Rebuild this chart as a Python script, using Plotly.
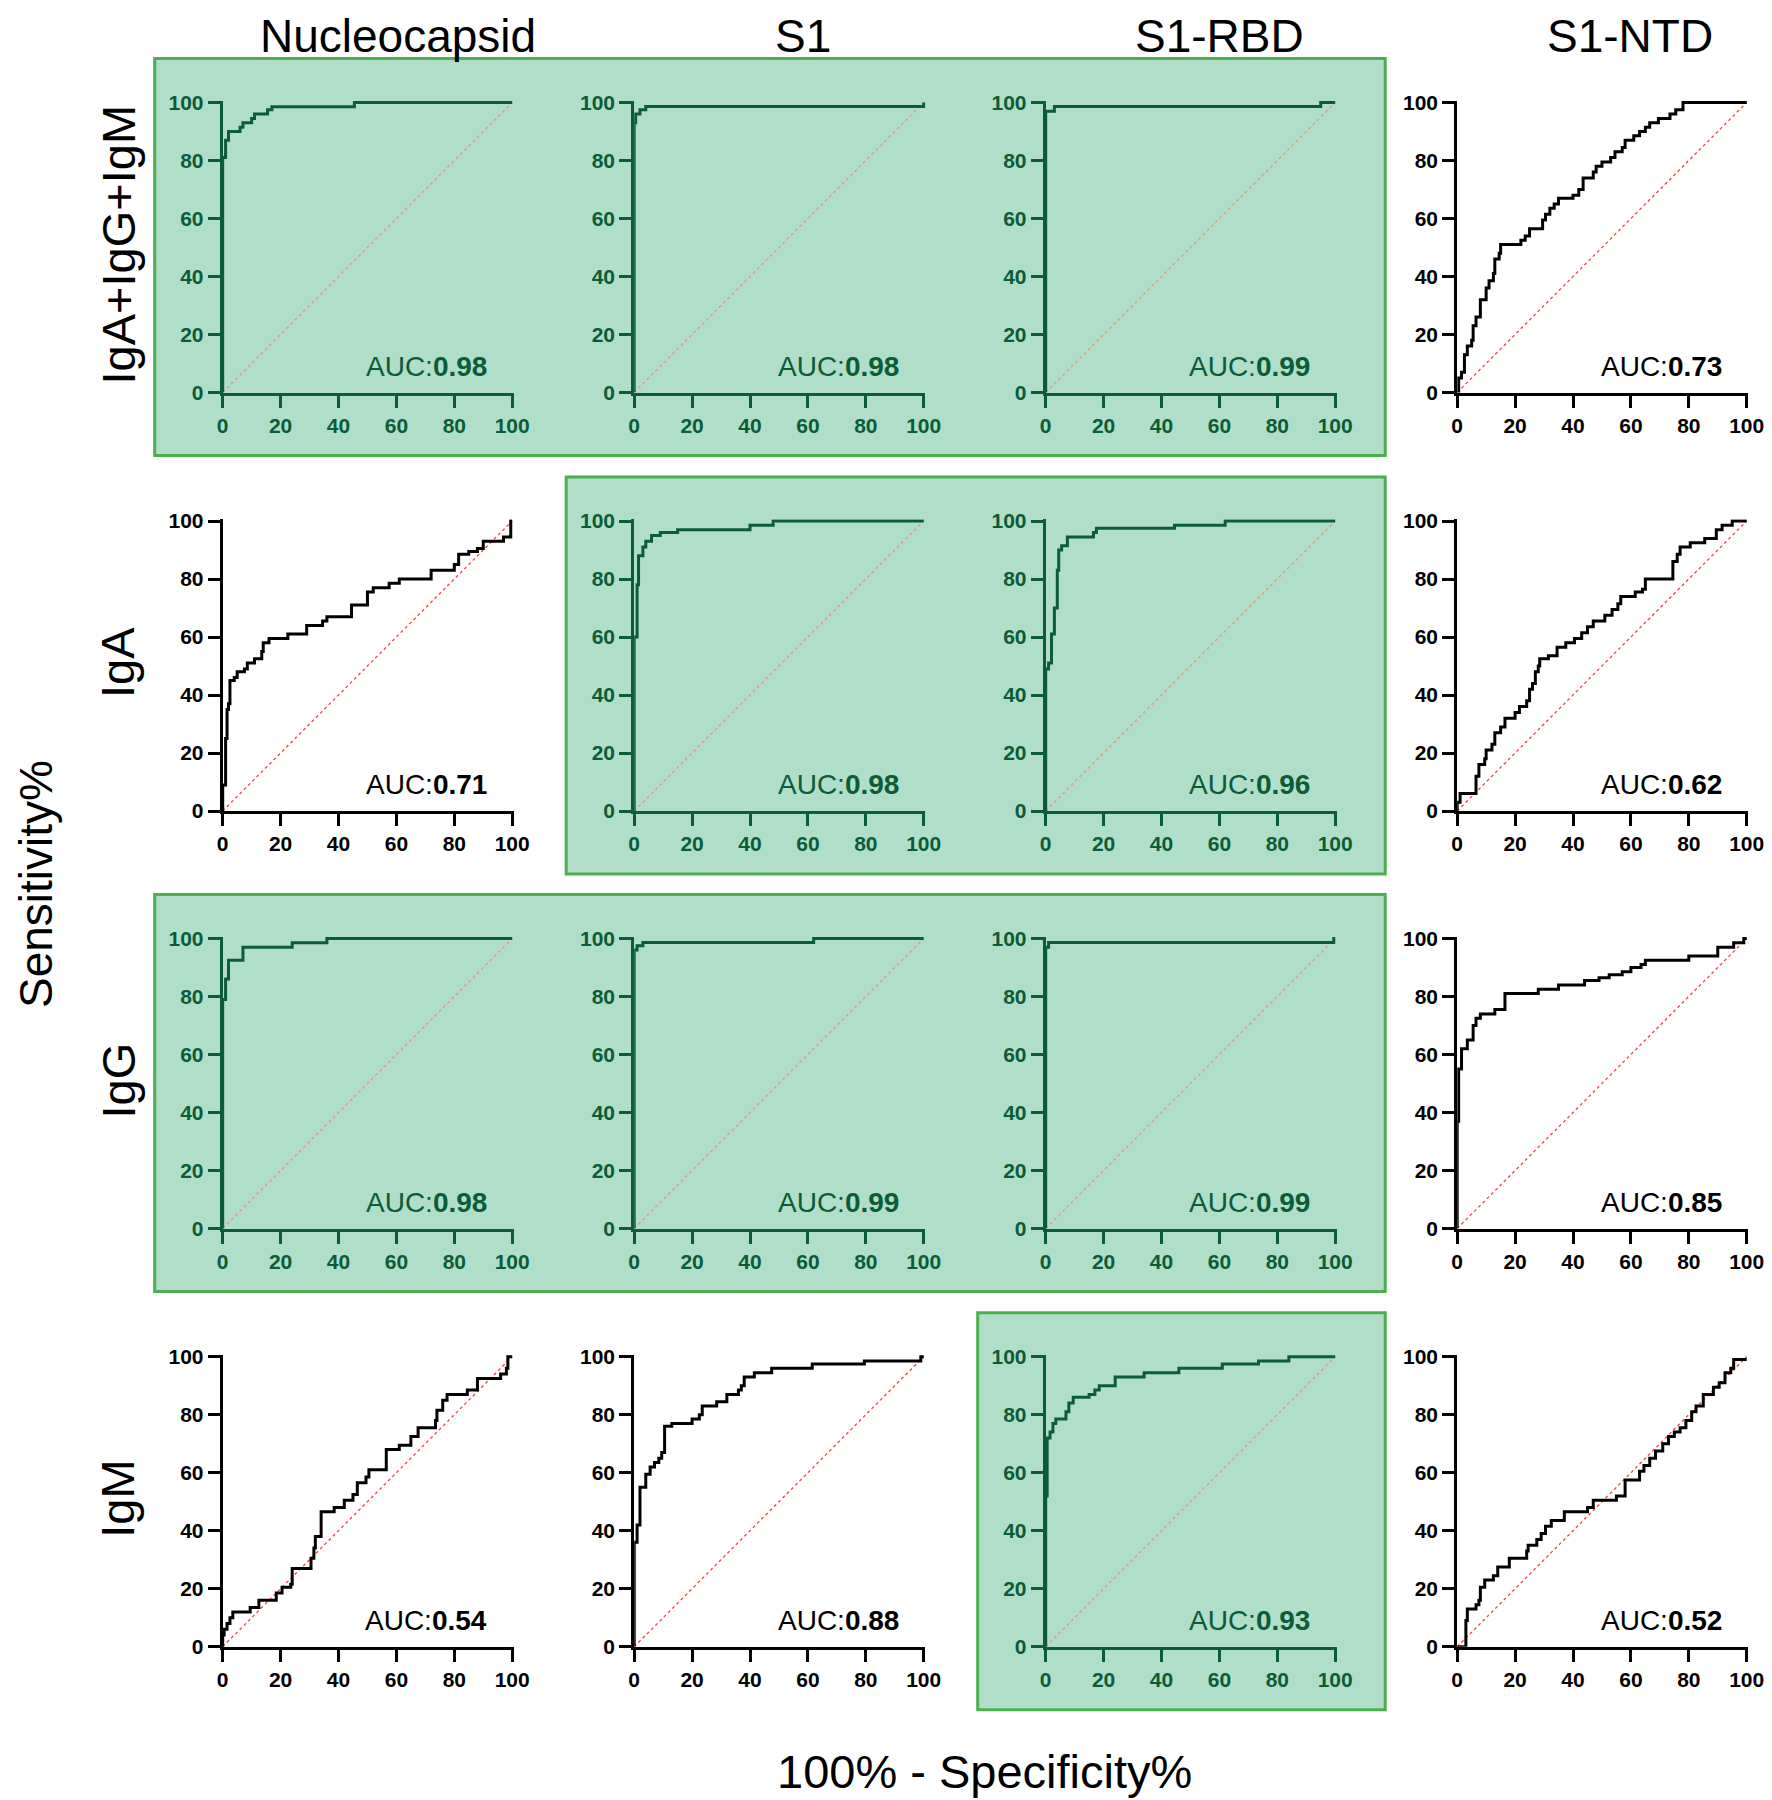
import plotly.graph_objects as go
from plotly.subplots import make_subplots

# the page body keeps its default 8px margin, so the figure is drawn 8px in
OFF = 8
W, H = 1772 - OFF, 1800 - OFF

COLUMNS = ["Nucleocapsid", "S1", "S1-RBD", "S1-NTD"]
ROWS = ["IgA+IgG+IgM", "IgA", "IgG", "IgM"]
TICKS = [0, 20, 40, 60, 80, 100]

AUC = [
    ["0.98", "0.98", "0.99", "0.73"],
    ["0.71", "0.98", "0.96", "0.62"],
    ["0.98", "0.99", "0.99", "0.85"],
    ["0.54", "0.88", "0.93", "0.52"],
]
# panels with AUC > 0.9 sit on a green box
HIGHLIGHT = [
    [1, 1, 1, 0],
    [0, 1, 1, 0],
    [1, 1, 1, 0],
    [0, 0, 1, 0],
]

# ROC steps: x = 100% - specificity%, y = sensitivity% (value after each step)
TOT_NUC_X = [0, 0, 1, 2, 6, 7, 10, 11, 15.5, 17, 45.5, 100]
TOT_NUC_Y = [0, 81, 87, 90, 91.5, 93, 94.5, 96, 97.5, 98.5, 100, 100]
TOT_S1_X = [0, 0, 0.5, 2, 4, 100]
TOT_S1_Y = [0, 93, 96, 97.5, 98.6, 100]
TOT_RBD_X = [0, 0, 3, 95, 100]
TOT_RBD_Y = [0, 97, 98.6, 100, 100]
TOT_NTD_X = [0, 0.5, 1.5, 2.5, 3.5, 5, 5.5, 6.5, 8, 10, 11, 12.5, 13, 14.5, 15, 22, 23.5, 25,
             29.5, 30.5, 32, 33.5, 35, 40, 42, 43.5, 47, 48, 50, 53, 54.5, 57, 58, 61, 63, 65,
             66.5, 69.5, 73.5, 75.5, 78, 100]
TOT_NTD_Y = [0, 5, 7, 13, 16, 18, 23, 26, 32, 36, 38.5, 41, 46, 48, 51, 52.5, 54, 56.5,
             59.5, 61.5, 63.5, 65, 67, 68, 70, 74, 76, 78, 79.5, 81, 83, 84.5, 87, 88.5, 90, 91.5,
             93, 94.5, 96, 97.5, 100, 100]

IGA_NUC_X = [0, 0, 1, 1.5, 2, 2.5, 4, 5, 7.5, 8.5, 11, 13.5, 14, 16, 22.5, 29, 34.5, 36, 44.5,
             50, 52, 57.5, 61, 72, 80, 81.5, 85, 88, 90, 97, 99.5, 100]
IGA_NUC_Y = [0, 9, 25, 35, 37, 45, 46, 48, 49, 51, 52.5, 55, 58, 59.5, 61, 64, 65.5, 67, 71,
             75.5, 77, 78.5, 80, 83, 85, 88.5, 89.5, 90.5, 93, 94.5, 100, 100]
IGA_S1_X = [0, 0, 1, 1.5, 3, 4, 6, 9, 15, 40, 48, 100]
IGA_S1_Y = [0, 60, 78, 88, 91, 93, 95, 96, 97, 98.5, 100, 100]
IGA_RBD_X = [0, 0, 1, 2, 3, 4, 4.5, 5.5, 7.5, 16.5, 17.5, 44.5, 62, 100]
IGA_RBD_Y = [0, 49, 51, 61, 70, 83, 90, 91.5, 94.5, 96, 97.5, 98.5, 100, 100]
IGA_NTD_X = [0, 0, 1, 6.5, 7.5, 9.5, 10, 12, 13, 15, 16.5, 20, 21.5, 24, 25, 26, 27, 28, 28.5,
             31.5, 34.5, 37.5, 40.5, 43, 45, 47, 51, 53.5, 55.5, 56.5, 61.5, 64, 65, 74.5, 76,
             77, 80.5, 85.5, 89.5, 91.5, 95, 100]
IGA_NTD_Y = [0, 3, 6, 12, 16, 18, 21, 23, 27, 29, 32, 34, 36, 38, 42, 44, 48, 50, 52.5,
             53.5, 56.5, 58, 59.5, 61.5, 63.5, 65.5, 67.5, 69.5, 71.5, 74, 75.5, 76.5, 80, 86, 88.5,
             91, 92.5, 94, 97, 98.5, 100, 100]

IGG_NUC_X = [0, 0, 1, 2, 7, 24, 36, 100]
IGG_NUC_Y = [0, 79, 86, 92.5, 97, 98.5, 100, 100]
IGG_S1_X = [0, 0, 1, 3, 62, 100]
IGG_S1_Y = [0, 96, 97.5, 98.6, 100, 100]
IGG_RBD_X = [0, 0, 1, 99.5, 100]
IGG_RBD_Y = [0, 97, 98.6, 100, 100]
IGG_NTD_X = [0, 0, 0.5, 1.5, 3.5, 5.5, 6.5, 8, 13, 16.5, 28, 35, 44, 49, 52.5, 57, 60, 63.5,
             65, 80, 90, 95.5, 99, 100]
IGG_NTD_Y = [0, 37, 55, 62, 65, 70, 72.5, 74, 75.5, 81, 82.5, 84, 85.5, 86.5, 87.5, 88.5, 90, 91,
             92.5, 94, 97, 98.5, 100, 100]

IGM_NUC_X = [0, 0, 0.5, 1.5, 2.5, 3.5, 9.5, 12.5, 18.5, 20.5, 23.5, 24, 30.5, 31.5, 32, 34,
             38.5, 42, 45, 46.5, 49.5, 50.5, 56.5, 61, 65, 67.5, 73.5, 74, 76, 77.5, 84.5, 88,
             96, 98, 98.5, 100]
IGM_NUC_Y = [0, 4, 6, 8, 10, 12, 13.5, 16, 18.5, 20.5, 21.5, 27, 30.5, 34, 38, 46.5,
             48, 50.5, 52.5, 56.5, 58.5, 61, 68, 69.5, 72.5, 75.5, 78, 81.5, 85, 87, 88.5, 92.5,
             94, 96, 100, 100]
IGM_S1_X = [0, 0, 1, 2, 4, 5.5, 7, 8.5, 9.5, 10.5, 13, 20, 22.5, 23.5, 28.5, 32, 36, 37, 38,
            41.5, 47.5, 61.5, 79.5, 99, 100]
IGM_S1_Y = [0, 36, 42, 55, 59.5, 62, 63.5, 65, 67, 76, 77, 78.5, 80, 83, 84.5, 87, 88.5, 90, 93,
            94.5, 96, 97.5, 98.5, 100, 100]
IGM_RBD_X = [0, 0, 0.5, 1.5, 2.5, 3.5, 7, 8, 9.5, 15, 17, 18.5, 24, 34, 46, 61, 73.5, 84, 100]
IGM_RBD_Y = [0, 52, 72, 74, 77, 78.5, 81, 84, 86, 87, 88.5, 90, 93, 94.5, 96, 97.5, 98.5, 100, 100]
IGM_NTD_X = [0, 3, 3.5, 6.5, 7.5, 8, 9.5, 12.5, 14, 18, 24, 24.5, 27.5, 29, 30.5, 32.5, 37, 45,
             47, 55, 58, 63, 64.5, 66.5, 68.5, 71, 73, 75, 77, 79, 81, 82.5, 85, 88.5, 90.5,
             92.5, 94.5, 95.5, 100]
IGM_NTD_Y = [0, 9, 13, 14.5, 16, 20.5, 23, 24.5, 27.5, 30.5, 33, 35, 37, 39, 41.5, 43.5, 46.5, 48,
             50.5, 52, 57.5, 60.5, 62.5, 65, 67.5, 70, 72.5, 74, 75.5, 78, 81, 83, 87, 89.5, 91,
             94.5, 96, 99, 99]

CURVES = [
    [(TOT_NUC_X, TOT_NUC_Y), (TOT_S1_X, TOT_S1_Y), (TOT_RBD_X, TOT_RBD_Y), (TOT_NTD_X, TOT_NTD_Y)],
    [(IGA_NUC_X, IGA_NUC_Y), (IGA_S1_X, IGA_S1_Y), (IGA_RBD_X, IGA_RBD_Y), (IGA_NTD_X, IGA_NTD_Y)],
    [(IGG_NUC_X, IGG_NUC_Y), (IGG_S1_X, IGG_S1_Y), (IGG_RBD_X, IGG_RBD_Y), (IGG_NTD_X, IGG_NTD_Y)],
    [(IGM_NUC_X, IGM_NUC_Y), (IGM_S1_X, IGM_S1_Y), (IGM_RBD_X, IGM_RBD_Y), (IGM_NTD_X, IGM_NTD_Y)],
]

# layout, in page pixels
COL_X0 = [222.7, 634.2, 1045.7, 1457.2]
ROW_Y0 = [102.5, 521.0, 938.5, 1356.7]
PW, PH = 289.5, 290.0
TOP = 100.6  # a little headroom so the 100% line isn't clipped

FONT = "Liberation Sans, Arial, sans-serif"
GREEN_FG = "#0b5c37"
BOX_FILL = "#b1dec9"
BOX_LINE = "#4cae4f"


def px_x(px):
    return (px - OFF) / W


def px_y(py):
    return 1 - (py - OFF) / H


fig = make_subplots(rows=4, cols=4)

for r in range(4):
    for c in range(4):
        green = HIGHLIGHT[r][c] == 1
        fg = GREEN_FG if green else "black"
        diag = "#ee9474" if green else "#ff3b3b"
        x, y = CURVES[r][c]

        fig.add_trace(go.Scatter(x=[0, 100], y=[0, 100], mode="lines",
                                 line=dict(color=diag, width=1.3, dash="dot"),
                                 hoverinfo="skip", showlegend=False), row=r + 1, col=c + 1)
        fig.add_trace(go.Scatter(x=x, y=y, mode="lines",
                                 line=dict(color=fg, width=3, shape="hv"),
                                 showlegend=False), row=r + 1, col=c + 1)

        xd = [px_x(COL_X0[c]), px_x(COL_X0[c] + PW * TOP / 100)]
        yd = [px_y(ROW_Y0[r] + PH), px_y(ROW_Y0[r] + PH - PH * TOP / 100)]
        axis = dict(range=[0, TOP], tickvals=TICKS, showgrid=False, zeroline=False,
                    showline=True, linewidth=3, linecolor=fg, ticks="outside", ticklen=12,
                    tickwidth=3, tickcolor=fg, automargin=False,
                    tickfont=dict(family=FONT, size=21, color=fg, weight="bold"))
        fig.update_xaxes(domain=xd, **axis, row=r + 1, col=c + 1)
        fig.update_yaxes(domain=yd, **axis, row=r + 1, col=c + 1)

        n = r * 4 + c + 1
        suffix = "" if n == 1 else str(n)
        fig.add_annotation(x=92, y=9, xref="x" + suffix, yref="y" + suffix,
                           text=f"AUC:<b>{AUC[r][c]}</b>", showarrow=False,
                           xanchor="right", yanchor="middle",
                           font=dict(family=FONT, size=28, color=fg))

# green boxes around runs of highlighted panels
for r in range(4):
    c = 0
    while c < 4:
        if HIGHLIGHT[r][c]:
            start = c
            while c + 1 < 4 and HIGHLIGHT[r][c + 1]:
                c += 1
            x0 = COL_X0[start] - 68
            x1 = COL_X0[c] + PW + 50
            y0 = ROW_Y0[r] - 44
            y1 = ROW_Y0[r] + PH + 63
            fig.add_shape(type="rect", xref="paper", yref="paper",
                          x0=px_x(x0), x1=px_x(x1), y0=px_y(y1), y1=px_y(y0),
                          fillcolor=BOX_FILL, line=dict(color=BOX_LINE, width=3),
                          layer="below")
        c += 1

# column and row titles
COL_TITLE_X = [398, 803, 1219, 1630]
for c, name in enumerate(COLUMNS):
    fig.add_annotation(x=px_x(COL_TITLE_X[c]), y=1, xref="paper", yref="paper",
                       text=name, showarrow=False, xanchor="center", yanchor="top",
                       font=dict(family=FONT, size=46, color="black"))
for r, name in enumerate(ROWS):
    fig.add_annotation(x=px_x(118), y=px_y(ROW_Y0[r] + PH / 2 - 3), xref="paper", yref="paper",
                       text=name, textangle=-90, showarrow=False,
                       xanchor="center", yanchor="middle",
                       font=dict(family=FONT, size=47, color="black"))

fig.add_annotation(x=0, y=px_y(884), xref="paper", yref="paper", text="Sensitivity%",
                   textangle=-90, showarrow=False, xanchor="left", yanchor="middle",
                   font=dict(family=FONT, size=46, color="black"))
fig.add_annotation(x=px_x(984), y=0, xref="paper", yref="paper",
                   text="100% - Specificity%", showarrow=False, xanchor="center",
                   yanchor="bottom", font=dict(family=FONT, size=47, color="black"))

fig.update_layout(width=W, height=H, margin=dict(l=0, r=0, t=0, b=0, autoexpand=False),
                  paper_bgcolor="white", plot_bgcolor="rgba(0,0,0,0)", showlegend=False)

fig.write_html("out.html")
